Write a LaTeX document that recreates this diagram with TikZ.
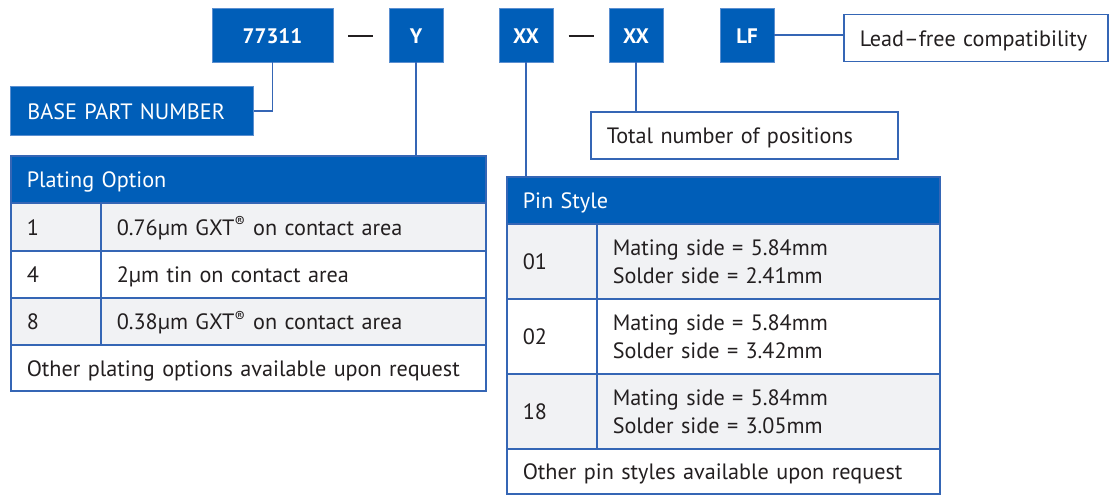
\documentclass[tikz,border=0pt]{standalone}
\usepackage{fontspec}
\setmainfont{PT Sans}
\definecolor{teblue}{HTML}{005EB8}
\definecolor{edgeblue}{HTML}{3566B5}
\definecolor{rimblue}{HTML}{5B8FD0}
\definecolor{rowgray}{HTML}{F1F2F4}
\definecolor{ink}{HTML}{231F20}
\newcommand{\bodyfont}{\fontsize{22.2}{28}\selectfont}
\begin{document}
\begin{tikzpicture}[x=1pt,y=-1pt,
  topbox/.style={fill=teblue, draw=rimblue, line width=0.8pt, text=white,
    font=\bfseries\fontsize{21}{24}\selectfont, inner sep=0pt, minimum height=54pt,
    text height=19pt, text depth=1pt},
  cell/.style={draw=edgeblue, line width=1.5pt, inner xsep=16pt, inner ysep=0pt,
    anchor=north west, align=left, text=ink, font=\bodyfont},
  one/.style={text height=19pt, text depth=2pt},
  head/.style={cell, one, fill=teblue, text=white},
  gray/.style={fill=rowgray},
  white/.style={fill=white},
  link/.style={draw=edgeblue, line width=1.5pt},
  dashtxt/.style={text=ink, inner sep=0pt}
]
\useasboundingbox (0,0) rectangle (1110,495);

% top code boxes
\node[topbox, minimum width=121pt] (pn) at (272.5,35) {77311};
\node[dashtxt] (d1) at (360.5,36) {\rule{25pt}{2.2pt}};
\node[topbox, minimum width=54pt] (yy) at (416,35) {Y};
\node[topbox, minimum width=54pt] (xa) at (526,35) {XX};
\node[dashtxt] (d2) at (581,36) {\rule{25pt}{2.2pt}};
\node[topbox, minimum width=54pt] (xb) at (636,35) {XX};
\node[topbox, minimum width=54pt] (lf) at (747,35) {LF};

% label boxes
\node[cell, one, fill=teblue, draw=rimblue, line width=0.8pt, text=white, inner xsep=17pt,
  text width=209pt, minimum height=49pt] (base) at (10,86) {BASE PART NUMBER};
\node[cell, one, white, text width=232pt, minimum height=47pt] (lead) at (843,14) {Lead–free compatibility};
\node[cell, one, white, text width=275pt, minimum height=47pt] (total) at (590,111) {Total number of positions};

% plating option table
\node[head, text width=443pt, minimum height=47pt] (ph) at (10,155) {Plating Option};
\node[cell, one, gray, text width=58pt, minimum height=48pt] (p1a) at (10,202) {1};
\node[cell, one, gray, text width=353pt, minimum height=48pt] (p1b) at (100,202) {0.76µm GXT\textsuperscript{®} on contact area};
\node[cell, one, white, text width=58pt, minimum height=47pt] (p2a) at (10,250) {4};
\node[cell, one, white, text width=353pt, minimum height=47pt] (p2b) at (100,250) {2µm tin on contact area};
\node[cell, one, gray, text width=58pt, minimum height=47pt] (p3a) at (10,297) {8};
\node[cell, one, gray, text width=353pt, minimum height=47pt] (p3b) at (100,297) {0.38µm GXT\textsuperscript{®} on contact area};
\node[cell, one, white, text width=443pt, minimum height=46pt] (p4) at (10,344) {Other plating options available upon request};

% pin style table
\node[head, text width=401pt, minimum height=47pt] (sh) at (506,176) {Pin Style};
\node[cell, one, gray, text width=58pt, minimum height=75pt] (s1a) at (506,223) {01};
\node[cell, gray, text width=311pt, minimum height=75pt] (s1b) at (596,223) {Mating side = 5.84mm\\Solder side = 2.41mm};
\node[cell, one, white, text width=58pt, minimum height=75pt] (s2a) at (506,298) {02};
\node[cell, white, text width=311pt, minimum height=75pt] (s2b) at (596,298) {Mating side = 5.84mm\\Solder side = 3.42mm};
\node[cell, one, gray, text width=58pt, minimum height=75pt] (s3a) at (506,373) {18};
\node[cell, gray, text width=311pt, minimum height=75pt] (s3b) at (596,373) {Mating side = 5.84mm\\Solder side = 3.05mm};
\node[cell, one, white, text width=401pt, minimum height=45pt] (s4) at (506,448) {Other pin styles available upon request};

% connectors
\draw[link] (pn.south) |- (base.east);
\draw[link] (yy.south) -- (yy.south |- ph.north);
\draw[link] (xa.south) -- (xa.south |- sh.north);
\draw[link] (xb.south) -- (xb.south |- total.north);
\draw[link] (lf.east) -- (lf.east -| lead.west);
\end{tikzpicture}
\end{document}
